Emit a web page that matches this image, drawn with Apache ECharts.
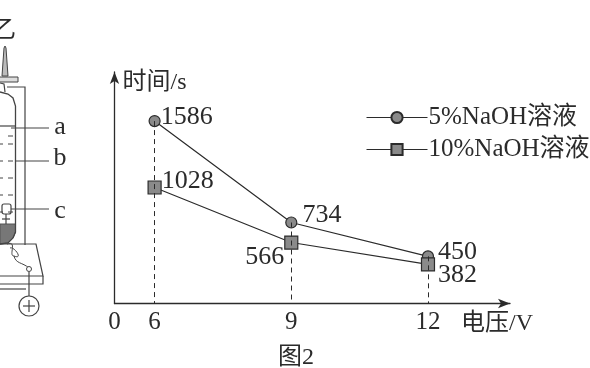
<!DOCTYPE html>
<html>
<head>
<meta charset="utf-8">
<style>
  html, body { margin: 0; padding: 0; background: #fff; }
  #chart { width: 590px; height: 368px; }
</style>
<script src="https://cdn.jsdelivr.net/npm/echarts@6/dist/echarts.min.js"></script>
</head>
<body>
<div id="chart"></div>
<script>
// 电压 (V)
var voltages = [6, 9, 12]
// 时间 (s)
var values5 = [1586, 734, 450]
var values10 = [1028, 566, 382]
var seriesNames = ['5%NaOH溶液', '10%NaOH溶液']
// 横轴在 0 和 6 之间是断开的，原点的刻度写 0
var xTicks = [5.12, 6, 9, 12]
var xTickLabels = ['0', '6', '9', '12']

var FONT = '"Liberation Serif", "Noto Sans CJK SC", serif'
var INK = '#2b2b2b'
var MARK = '#8a8a8a'

// 每个数字标签相对点的位置
var labels5 = [
  { position: 'right', offset: [-6, -4] },
  { position: 'right', offset: [-1, -7] },
  { position: 'right', offset: [-2, -4] }
]
var labels10 = [
  { position: 'right', offset: [-6, -6] },
  { position: 'left', offset: [6, 15] },
  { position: 'right', offset: [-3, 11] }
]

var yMin = 54
var yMax = 1998

function buildData(values, labels) {
  return values.map(function (v, i) {
    return { value: [voltages[i], v], label: labels[i] }
  })
}

// 虚线：从上面的点垂到横轴
function dropLines() {
  return voltages.map(function (x, i) {
    return [{ coord: [x, values5[i]] }, { coord: [x, yMin] }]
  })
}

function makeSeries(name, values, labels, symbol, size) {
  return {
    name: name,
    type: 'line',
    symbol: symbol,
    symbolSize: size,
    z: 3,
    lineStyle: { color: INK, width: 1.2 },
    itemStyle: { color: MARK, borderColor: INK, borderWidth: 1.2 },
    label: { show: true, color: INK, fontFamily: FONT, fontSize: 26, distance: 6 },
    emphasis: { disabled: true },
    data: buildData(values, labels)
  }
}

// 左边的实验装置（原图被裁掉一部分）
function line(x1, y1, x2, y2, w) {
  return { type: 'line', shape: { x1: x1, y1: y1, x2: x2, y2: y2 }, style: { stroke: '#444', lineWidth: w || 1.2 } }
}
function poly(points, w) {
  return { type: 'polyline', shape: { points: points }, style: { stroke: '#444', lineWidth: w || 1.2, fill: null } }
}
function curve(x1, y1, cx1, cy1, cx2, cy2, x2, y2) {
  return {
    type: 'bezierCurve',
    shape: { x1: x1, y1: y1, cpx1: cx1, cpy1: cy1, cpx2: cx2, cpy2: cy2, x2: x2, y2: y2 },
    style: { stroke: '#444', lineWidth: 1, fill: null }
  }
}
function text(x, y, str, size) {
  return {
    type: 'text', x: x, y: y,
    style: { text: str, fill: INK, font: size + 'px ' + FONT, textAlign: 'center', textVerticalAlign: 'middle' }
  }
}

function apparatus() {
  var els = [
    text(4, 31, '乙', 24),
    // 尖嘴和活塞
    { type: 'polygon', shape: { points: [[2, 76], [4, 48], [5, 46], [6, 48], [8, 76]] }, style: { fill: '#bbb', stroke: '#444', lineWidth: 1 } },
    { type: 'rect', shape: { x: -2, y: 77, width: 20, height: 5 }, style: { fill: '#ddd', stroke: '#444', lineWidth: 1 } },
    poly([[0, 83], [4, 84], [5, 92]]),
    // 底部的深色部分
    { type: 'polygon', shape: { points: [[0, 224], [15.5, 224], [15.5, 232], [13, 238], [8, 243], [0, 244]] }, style: { fill: '#777', stroke: '#555', lineWidth: 1 } },
    // 管壁
    poly([[0, 92], [8, 94], [13, 98], [15.5, 106], [15.5, 232], [13, 238], [8, 243], [0, 244]], 1.3),
    // 外框
    poly([[7, 87], [25, 87], [25, 245]]),
    line(0, 126, 15, 126),
    // 引线和字母
    line(11, 128, 49, 128), text(60, 127, 'a', 26),
    line(16, 161, 49, 161), text(60, 158, 'b', 26),
    line(11, 209, 49, 209), text(60, 211, 'c', 26),
    { type: 'rect', shape: { x: 2, y: 204, width: 9, height: 10, r: 2 }, style: { fill: '#fff', stroke: '#444', lineWidth: 1.2 } },
    line(6, 214, 6, 224),
    line(2, 219, 10, 219),
    // 底座
    poly([[0, 244], [36, 244], [43, 276], [0, 276]]),
    poly([[0, 284], [43, 284], [43, 276]]),
    line(0, 289, 26, 289),
    // 电线和电源
    curve(7, 244, 18, 240, 8, 256, 14, 256),
    curve(14, 256, 24, 260, 14, 246, 10, 248),
    curve(14, 256, 16, 264, 22, 262, 29, 268),
    { type: 'circle', shape: { cx: 29, cy: 269, r: 2.5 }, style: { fill: '#fff', stroke: '#444', lineWidth: 1 } },
    line(29, 272, 29, 296),
    { type: 'circle', shape: { cx: 29, cy: 306, r: 10 }, style: { fill: '#fff', stroke: '#444', lineWidth: 1.2 } },
    line(23, 306, 35, 306),
    line(29, 300, 29, 312)
  ]
  // 液体里的短横
  var rows = [144, 161, 178, 195, 212]
  rows.forEach(function (y) {
    els.push(line(0, y, 3, y, 1))
    els.push(line(8, y, 13, y, 1))
  })
  els.push(line(8, 136, 13, 136, 1))
  return els
}

var chart = echarts.init(document.getElementById('chart'), null, { renderer: 'canvas' })
chart.setOption({
  backgroundColor: '#fff',
  animation: false,
  textStyle: { fontFamily: FONT },
  legend: {
    left: 366,
    top: 105,
    padding: 0,
    orient: 'vertical',
    itemWidth: 61,
    itemHeight: 14,
    itemGap: 7,
    lineStyle: { width: 1 },
    data: seriesNames,
    textStyle: { color: INK, fontFamily: FONT, fontSize: 25, padding: [0, 0, 0, -4] }
  },
  grid: { left: 114.5, right: 80, top: 72, bottom: 64.5 },
  xAxis: {
    type: 'value',
    min: xTicks[0],
    max: 13.8,
    name: '电压/V',
    nameLocation: 'end',
    nameGap: -49,
    nameTextStyle: { color: INK, fontFamily: FONT, fontSize: 24, verticalAlign: 'top', padding: [8, 0, 0, 0] },
    splitLine: { show: false },
    axisLine: { lineStyle: { color: INK, width: 1.3 }, symbol: ['none', 'arrow'], symbolSize: [7, 12] },
    axisTick: { show: false },
    axisLabel: {
      customValues: xTicks,
      color: INK,
      fontFamily: FONT,
      fontSize: 25,
      margin: 6,
      formatter: function (v) {
        return xTickLabels[xTicks.indexOf(v)]
      }
    }
  },
  yAxis: {
    type: 'value',
    min: yMin,
    max: yMax,
    name: '时间/s',
    nameLocation: 'end',
    nameGap: -23,
    nameTextStyle: { color: INK, fontFamily: FONT, fontSize: 24, align: 'left', padding: [0, 0, 0, 8] },
    splitLine: { show: false },
    axisTick: { show: false },
    axisLabel: { show: false },
    axisLine: { show: true, lineStyle: { color: INK, width: 1.3 }, symbol: ['none', 'arrow'], symbolSize: [7, 12] }
  },
  series: [
    Object.assign(makeSeries(seriesNames[0], values5, labels5, 'circle', 11), {
      markLine: {
        silent: true,
        symbol: 'none',
        label: { show: false },
        lineStyle: { color: INK, type: [5, 4], width: 1 },
        data: dropLines()
      }
    }),
    makeSeries(seriesNames[1], values10, labels10, 'rect', 13)
  ],
  graphic: apparatus().concat([text(296, 358, '图2', 24)])
})
</script>
</body>
</html>
